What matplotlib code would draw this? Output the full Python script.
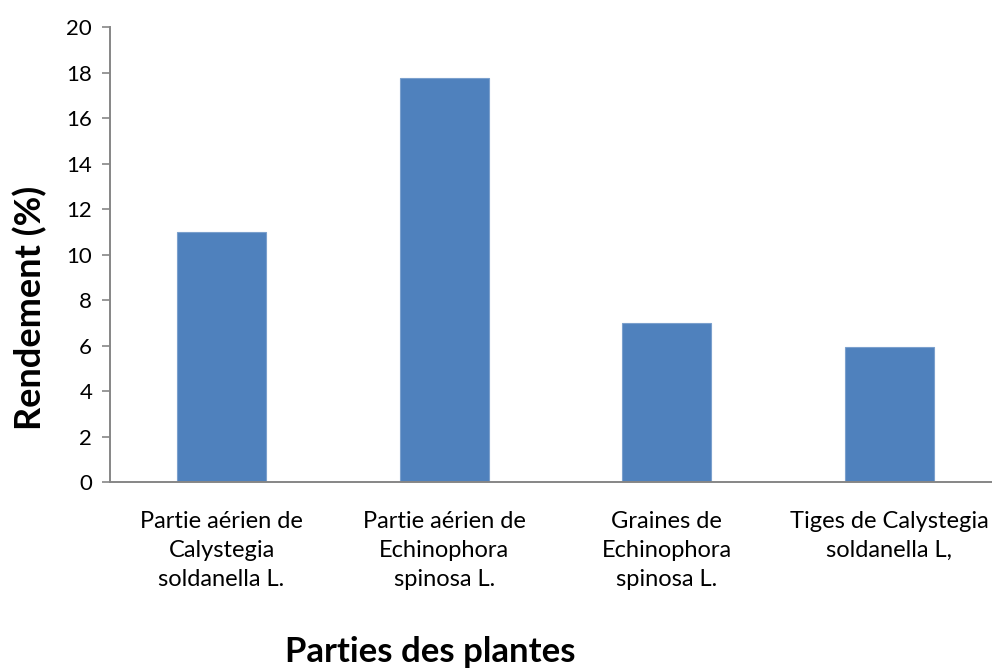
import matplotlib
matplotlib.use("Agg")
import matplotlib.pyplot as plt

categories = [
    "Partie aérien de\nCalystegia\nsoldanella L.",
    "Partie aérien de\nEchinophora\nspinosa L.",
    "Graines de\nEchinophora\nspinosa L.",
    "Tiges de Calystegia\nsoldanella L,",
]
rendement = [11.0, 17.75, 7.0, 5.95]
yticks = [0, 2, 4, 6, 8, 10, 12, 14, 16, 18, 20]

plt.rcParams["font.family"] = ["Lato", "DejaVu Sans"]

W, H = 992, 672
fig = plt.figure(figsize=(W / 100, H / 100), dpi=100)
left, right = 110.2 / W, 1000.8 / W
bottom, top = (H - 482.3) / H, (H - 27.3) / H
ax = fig.add_axes([left, bottom, right - left, top - bottom])

x = list(range(len(categories)))
ax.bar(x, rendement, width=0.4, color="#4F81BD", edgecolor="#7BA0CD", linewidth=0.8, zorder=2)

ax.set_xlim(-0.5, len(categories) - 0.5)
ax.set_ylim(0, 20)
ax.set_yticks(yticks)
ax.set_yticklabels([str(t) for t in yticks], fontsize=16)
ax.set_xticks(x)
ax.set_xticklabels(categories, fontsize=17, linespacing=1.45)
ax.tick_params(axis="x", length=0, pad=21)
ax.tick_params(axis="y", length=6, width=1.2, color="#868686", pad=7)

for s in ["top", "right"]:
    ax.spines[s].set_visible(False)
for s in ["left", "bottom"]:
    ax.spines[s].set_color("#868686")
    ax.spines[s].set_linewidth(1.4)

fig.text(30 / W, 1 - 308 / H, "Rendement (%)", rotation=90, ha="center", va="center",
         fontsize=26, fontweight="bold")
fig.text(430 / W, 1 - 652 / H, "Parties des plantes", ha="center", va="center",
         fontsize=25, fontweight="bold")

fig.savefig("out.png", dpi=100, facecolor="white")
